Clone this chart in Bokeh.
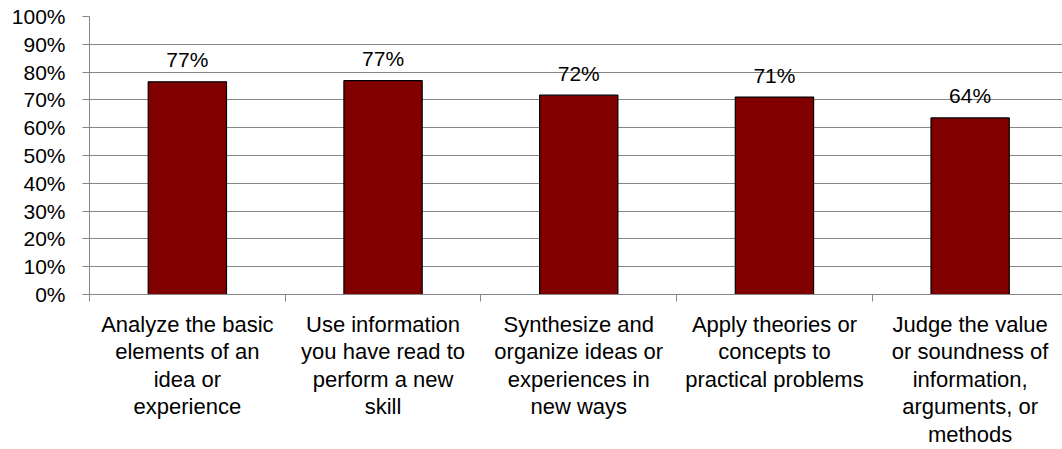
from bokeh.plotting import figure
from bokeh.models import Range1d, FixedTicker, PrintfTickFormatter, ColumnDataSource
from bokeh.core.properties import value
from bokeh.embed import file_html
from bokeh.resources import INLINE

categories = [
    "Analyze the basic\nelements of an\nidea or\nexperience",
    "Use information\nyou have read to\nperform a new\nskill",
    "Synthesize and\norganize ideas or\nexperiences in\nnew ways",
    "Apply theories or\nconcepts to\npractical problems",
    "Judge the value\nor soundness of\ninformation,\narguments, or\nmethods",
]
values = [76.5, 76.9, 71.7, 71.0, 63.5]
value_labels = ["77%", "77%", "72%", "71%", "64%"]
y_ticks = [0, 10, 20, 30, 40, 50, 60, 70, 80, 90, 100]

FONT = "Liberation Sans"
GRID = "#868686"

n = len(categories)
xs = [i + 0.5 for i in range(n)]
bounds = list(range(n + 1))
src = ColumnDataSource(dict(x=xs, top=values, label=value_labels))

p = figure(width=1062, height=449, x_range=Range1d(0, 4.972), y_range=Range1d(0, 100),
           output_backend="svg", toolbar_location=None,
           min_border_left=89, min_border_top=16, min_border_right=0, min_border_bottom=0)

p.vbar(x="x", top="top", width=0.4, bottom=0, source=src,
       fill_color="#800000", line_color="#000000", line_width=1.2)
p.text(x="x", y="top", text="label", source=src, text_align="center",
       text_baseline="middle", y_offset=-22, text_font=value(FONT),
       text_font_size="21px", text_color="#000000")

p.outline_line_color = None
p.xgrid.visible = False
p.ygrid.grid_line_color = GRID
p.ygrid.grid_line_width = 1
p.ygrid.ticker = FixedTicker(ticks=y_ticks)

ya = p.yaxis[0]
ya.ticker = FixedTicker(ticks=y_ticks)
ya.formatter = PrintfTickFormatter(format="%d%%")
ya.axis_line_color = GRID
ya.major_tick_line_color = GRID
ya.major_tick_out = 7
ya.major_tick_in = 0
ya.minor_tick_line_color = None
ya.major_label_standoff = 17
ya.major_label_text_font = FONT
ya.major_label_text_font_size = "21px"
ya.major_label_text_color = "#000000"

xa = p.xaxis[0]
xa.ticker = FixedTicker(ticks=xs, minor_ticks=bounds)
xa.major_label_overrides = {x: c for x, c in zip(xs, categories)}
xa.axis_line_color = GRID
xa.major_tick_line_color = None
xa.major_tick_out = 7
xa.major_tick_in = 0
xa.minor_tick_line_color = GRID
xa.minor_tick_out = 7
xa.minor_tick_in = 0
xa.major_label_standoff = 10
xa.major_label_text_font = FONT
xa.major_label_text_font_size = "22px"
xa.major_label_text_color = "#000000"
xa.major_label_text_line_height = 1.1
xa.major_label_text_align = "center"

open("out.html", "w").write(file_html(p, INLINE))
